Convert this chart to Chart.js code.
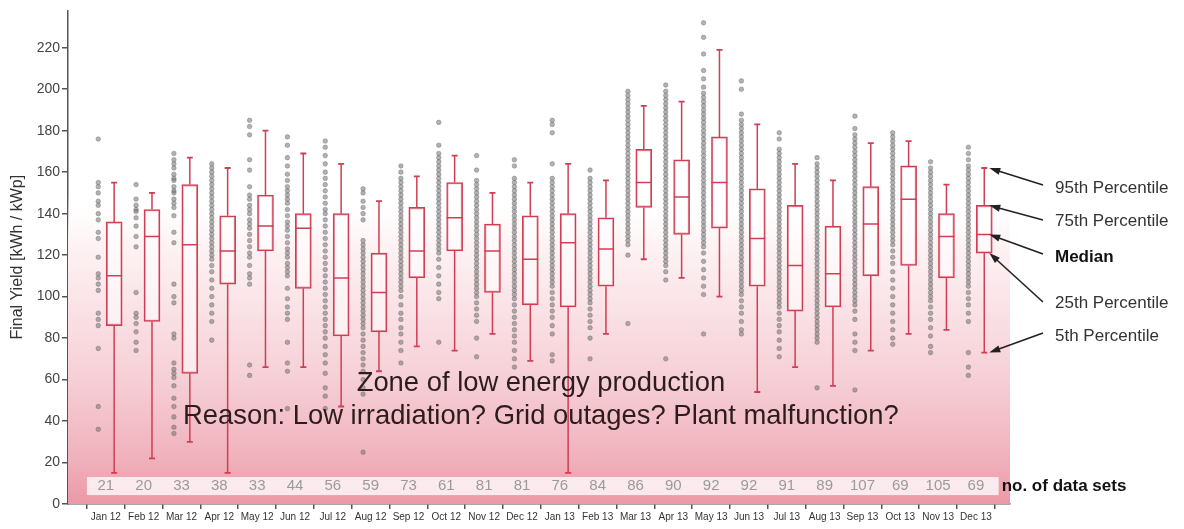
<!DOCTYPE html>
<html>
<head>
<meta charset="utf-8">
<script src="https://cdn.jsdelivr.net/npm/chart.js@4.4.1/dist/chart.umd.min.js"></script>
<style>
    html, body { margin: 0; padding: 0; background: #fff; }
    #chart { display: block; }
</style>
</head>
<body>
<canvas id="chart" width="1184" height="529"></canvas>
<script>
/*
    ----------> DATA <----------
*/

const months = ["Jan 12", "Feb 12", "Mar 12", "Apr 12", "May 12", "Jun 12", "Jul 12", "Aug 12", "Sep 12", "Oct 12", "Nov 12", "Dec 12",
                "Jan 13", "Feb 13", "Mar 13", "Apr 13", "May 13", "Jun 13", "Jul 13", "Aug 13", "Sep 13", "Oct 13", "Nov 13", "Dec 13"];

const counts = [21, 20, 33, 38, 33, 44, 56, 59, 73, 61, 81, 81, 76, 84, 86, 90, 92, 92, 91, 89, 107, 69, 105, 69];

// percentiles per month [kWh / kWp]
const p95    = [155, 150, 167, 162, 180, 169, 164, 146, 158, 168, 150, 155, 164, 156, 192, 194, 219, 183, 164, 156, 174, 175, 154, 162];
const q3     = [136, 142, 154, 139, 149, 140, 140, 121, 143, 155, 135, 139, 140, 138, 171, 166, 177, 152, 144, 134, 153, 163, 140, 144];
const median = [110, 129, 125, 122, 134, 133, 109, 102, 122, 138, 122, 118, 126, 123, 155, 148, 155, 128, 115, 111, 135, 147, 129, 130];
const q1     = [86, 88, 63, 106, 122, 104, 81, 83, 109, 122, 102, 96, 95, 105, 143, 130, 133, 105, 93, 95, 110, 115, 109, 121];
const p5     = [15, 22, 30, 15, 66, 66, 47, 64, 76, 74, 82, 69, 15, 82, 118, 109, 100, 54, 66, 57, 74, 82, 84, 73];

// single plant yields per month
const yields = [
    [176, 155, 153, 150, 146, 144, 140, 137, 131, 128, 119, 111, 109, 106, 103, 92, 89, 86, 75, 47, 36],
    [154, 147, 144, 142, 141, 138, 134, 129, 124, 102, 92, 90, 87, 83, 78, 74],
    [169, 166, 164, 162, 159, 157, 156, 153, 151, 150, 147, 145, 143, 139, 131, 126, 106, 100, 97, 82, 80, 68, 65, 63, 61, 57, 51, 47, 42, 37, 34],
    [164, 162, 160, 158, 156, 154, 152, 150, 148, 146, 144, 142, 140, 138, 136, 134, 132, 130, 128, 126, 124, 122, 120, 118, 115, 112, 108, 104, 100, 96, 92, 88, 79],
    [185, 182, 178, 166, 161, 153, 149, 147, 144, 142, 140, 137, 135, 133, 130, 127, 124, 121, 119, 115, 111, 109, 106, 67, 62],
    [177, 173, 167, 163, 159, 156, 153, 151, 149, 147, 145, 142, 139, 136, 134, 132, 129, 126, 123, 121, 119, 116, 114, 112, 110, 104, 99, 95, 92, 89, 78, 68, 64, 46],
    [175, 172, 168, 164, 160, 157, 154, 151, 148, 145, 142, 140, 137, 134, 131, 128, 125, 122, 119, 116, 113, 110, 107, 104, 101, 98, 95, 92, 89, 86, 83, 80, 76, 72, 68, 63, 56, 52, 46],
    [152, 150, 146, 143, 140, 137, 127, 125, 123, 121, 119, 117, 115, 113, 111, 109, 107, 105, 103, 101, 99, 97, 95, 93, 91, 89, 87, 85, 82, 79, 76, 73, 70, 67, 64, 60, 56, 53, 25],
    [163, 160, 157, 155, 153, 151, 149, 147, 145, 143, 141, 139, 137, 135, 133, 131, 129, 127, 125, 123, 121, 119, 117, 115, 113, 111, 109, 107, 105, 103, 100, 96, 92, 89, 85, 82, 78, 74, 68],
    [184, 173, 169, 167, 165, 163, 161, 159, 157, 155, 153, 151, 149, 147, 145, 143, 141, 139, 137, 135, 133, 131, 129, 127, 125, 123, 121, 118, 114, 110, 106, 102, 99, 78],
    [168, 161, 156, 154, 152, 150, 148, 146, 144, 142, 140, 138, 136, 134, 132, 130, 128, 126, 124, 122, 120, 118, 116, 114, 112, 110, 108, 106, 104, 102, 100, 97, 94, 91, 88, 80, 71],
    [166, 163, 157, 155, 153, 151, 149, 147, 145, 143, 141, 139, 137, 135, 133, 131, 129, 127, 125, 123, 121, 119, 117, 115, 113, 111, 109, 107, 105, 103, 101, 99, 96, 93, 90, 87, 84, 81, 78, 74, 70, 66],
    [185, 183, 179, 164, 157, 155, 153, 151, 149, 147, 145, 143, 141, 139, 137, 135, 133, 131, 129, 127, 125, 123, 121, 119, 117, 115, 113, 111, 109, 107, 105, 102, 99, 96, 93, 90, 86, 82, 72, 69],
    [161, 157, 155, 153, 151, 149, 147, 145, 143, 141, 139, 137, 135, 133, 131, 129, 127, 125, 123, 121, 119, 117, 115, 113, 111, 109, 107, 105, 103, 101, 99, 97, 94, 91, 88, 85, 80, 70],
    [199, 197, 195, 193, 191, 189, 187, 185, 183, 181, 179, 177, 175, 173, 171, 169, 167, 165, 163, 161, 159, 157, 155, 153, 151, 149, 147, 145, 143, 141, 139, 137, 135, 133, 131, 129, 127, 125, 120, 87],
    [202, 199, 197, 195, 193, 191, 189, 187, 185, 183, 181, 179, 177, 175, 173, 171, 169, 167, 165, 163, 161, 159, 157, 155, 153, 151, 149, 147, 145, 143, 141, 139, 137, 135, 133, 131, 129, 127, 125, 123, 121, 119, 117, 115, 112, 108, 70],
    [232, 225, 217, 209, 205, 201, 198, 196, 194, 192, 190, 188, 186, 184, 182, 180, 178, 176, 174, 172, 170, 168, 166, 164, 162, 160, 158, 156, 154, 152, 150, 148, 146, 144, 142, 140, 138, 136, 134, 132, 130, 128, 126, 124, 121, 117, 113, 109, 105, 101, 82],
    [204, 200, 188, 185, 183, 181, 179, 177, 175, 173, 171, 169, 167, 165, 163, 161, 159, 157, 155, 153, 151, 149, 147, 145, 143, 141, 139, 137, 135, 133, 131, 129, 127, 125, 123, 121, 119, 117, 115, 113, 111, 109, 107, 105, 103, 101, 98, 95, 92, 88, 84, 82],
    [179, 176, 171, 169, 167, 165, 163, 161, 159, 157, 155, 153, 151, 149, 147, 145, 143, 141, 139, 137, 135, 133, 131, 129, 127, 125, 123, 121, 119, 117, 115, 113, 111, 109, 107, 105, 103, 101, 99, 97, 95, 92, 89, 86, 83, 79, 75, 71],
    [167, 164, 162, 160, 158, 156, 154, 152, 150, 148, 146, 144, 142, 140, 138, 136, 134, 132, 130, 128, 126, 124, 122, 120, 118, 116, 114, 112, 110, 108, 106, 104, 102, 100, 98, 96, 94, 92, 90, 88, 86, 84, 82, 80, 78, 56],
    [187, 181, 178, 176, 174, 172, 170, 168, 166, 164, 162, 160, 158, 156, 154, 152, 150, 148, 146, 144, 142, 140, 138, 136, 134, 132, 130, 128, 126, 124, 122, 120, 118, 116, 114, 112, 110, 108, 106, 104, 102, 100, 98, 96, 93, 89, 82, 78, 74, 55],
    [179, 177, 175, 173, 171, 169, 167, 165, 163, 161, 159, 157, 155, 153, 151, 149, 147, 145, 143, 141, 139, 137, 135, 133, 131, 129, 127, 125, 122, 119, 116, 112, 108, 104, 100, 96, 92, 88, 84, 80, 77],
    [165, 162, 160, 158, 156, 154, 152, 150, 148, 146, 144, 142, 140, 138, 136, 134, 132, 130, 128, 126, 124, 122, 120, 118, 116, 114, 112, 110, 108, 106, 104, 102, 100, 98, 95, 92, 89, 85, 81, 76, 73],
    [172, 169, 166, 163, 161, 159, 157, 155, 153, 151, 149, 147, 145, 143, 141, 139, 137, 135, 133, 131, 129, 127, 125, 123, 121, 119, 117, 115, 113, 111, 109, 107, 105, 102, 99, 96, 92, 88, 73, 66, 62],
];

const percentileLabels = ["95th Percentile", "75th Percentile", "Median", "25th Percentile", "5th Percentile"];
const percentileValues = [p95, q3, median, q1, p5];

/*
    ----------> STYLE <----------
*/

const RED = "rgb(208, 62, 84)";
const BOX_SHIFT = 0.22;    // box sits right of the month tick
const DOT_SHIFT = -0.2;    // sample column sits left of it
const ZONE_TOP = 150;
const FONT = "'Liberation Sans', Arial, sans-serif";

Chart.defaults.font.family = FONT;

/*
    ----------> DATASETS <----------
*/

const dots = [];
yields.forEach((list, i) => {
    list.forEach(v => dots.push({ x: i + DOT_SHIFT, y: v }));
});

const whiskers = [];
months.forEach((m, i) => {
    const x = i + BOX_SHIFT;
    whiskers.push({ x, y: q3[i] }, { x, y: p95[i] }, { x, y: null });
    whiskers.push({ x, y: q1[i] }, { x, y: p5[i] }, { x, y: null });
});

const caps = [];
months.forEach((m, i) => {
    caps.push({ x: i + BOX_SHIFT, y: p95[i] }, { x: i + BOX_SHIFT, y: p5[i] });
});

/*
    ----------> PLUGIN: ZONE, COUNTS, NOTES <----------
*/

function drawArrow(ctx, x0, y0, x1, y1) {
    const ang = Math.atan2(y1 - y0, x1 - x0);
    const len = 11, half = 3.6;
    ctx.beginPath();
    ctx.moveTo(x0, y0);
    ctx.lineTo(x1 - Math.cos(ang) * len * 0.8, y1 - Math.sin(ang) * len * 0.8);
    ctx.stroke();
    ctx.beginPath();
    ctx.moveTo(x1, y1);
    ctx.lineTo(x1 - Math.cos(ang) * len - Math.sin(ang) * half, y1 - Math.sin(ang) * len + Math.cos(ang) * half);
    ctx.lineTo(x1 - Math.cos(ang) * len + Math.sin(ang) * half, y1 - Math.sin(ang) * len - Math.cos(ang) * half);
    ctx.closePath();
    ctx.fill();
}

const notes = {
    id: "notes",
    beforeDatasetsDraw(chart) {
        const { ctx, chartArea, scales: { y } } = chart;
        const top = y.getPixelForValue(ZONE_TOP);
        const bottom = y.getPixelForValue(0);
        const grad = ctx.createLinearGradient(0, bottom, 0, top);
        grad.addColorStop(0, "rgb(236, 152, 166)");
        grad.addColorStop(0.15, "rgb(240, 178, 189)");
        grad.addColorStop(0.4, "rgb(246, 207, 214)");
        grad.addColorStop(0.65, "rgb(250, 228, 232)");
        grad.addColorStop(0.85, "rgb(254, 244, 245)");
        grad.addColorStop(1, "rgba(255, 255, 255, 0)");
        ctx.save();
        ctx.fillStyle = grad;
        ctx.fillRect(chartArea.left, top, chartArea.right - chartArea.left, bottom - top);
        ctx.restore();
    },
    afterDatasetsDraw(chart) {
        const { ctx, scales: { x, y } } = chart;
        ctx.save();

        /* -----> COUNT BAND <----- */

        const bandL = x.getPixelForValue(-0.5);
        const bandR = x.getPixelForValue(23.6);
        const bandT = y.getPixelForValue(13);
        const bandB = y.getPixelForValue(4.3);
        ctx.fillStyle = "rgba(255, 255, 255, 0.78)";
        ctx.fillRect(bandL, bandT, bandR - bandL, bandB - bandT);

        ctx.font = `15px ${FONT}`;
        ctx.fillStyle = "#9a9a9a";
        ctx.textAlign = "center";
        ctx.textBaseline = "middle";
        const cy = (bandT + bandB) / 2;
        counts.forEach((c, i) => ctx.fillText(String(c), x.getPixelForValue(i), cy));

        ctx.font = `bold 17px ${FONT}`;
        ctx.fillStyle = "#111";
        ctx.textAlign = "left";
        ctx.fillText("no. of data sets", bandR + 3, cy);

        /* -----> ZONE TEXT <----- */

        ctx.font = `27.4px ${FONT}`;
        ctx.fillStyle = "#2b1d1f";
        ctx.textAlign = "center";
        ctx.fillText("Zone of low energy production", x.getPixelForValue(11.5), y.getPixelForValue(58.3));
        ctx.fillText("Reason: Low irradiation? Grid outages? Plant malfunction?", x.getPixelForValue(11.5), y.getPixelForValue(42.4));

        /* -----> PERCENTILE NOTES <----- */

        const textX = 1055;
        const textY = [188, 221, 257, 303, 336];
        const fromY = [185, 220, 254, 302, 333];
        const last = months.length - 1;
        const tipX = x.getPixelForValue(last + BOX_SHIFT) + 5;

        ctx.textAlign = "left";
        ctx.strokeStyle = "#222";
        ctx.lineWidth = 1.6;
        percentileLabels.forEach((label, k) => {
            ctx.font = (label == "Median" ? "bold " : "") + `17px ${FONT}`;
            ctx.fillStyle = label == "Median" ? "#111" : "#333";
            ctx.fillText(label, textX, textY[k]);
            ctx.fillStyle = "#222";
            drawArrow(ctx, textX - 12, fromY[k], tipX, y.getPixelForValue(percentileValues[k][last]));
        });

        ctx.restore();
    }
};

/*
    ----------> CHART <----------
*/

new Chart(document.getElementById("chart"), {
    type: "bar",
    data: {
        datasets: [
            {
                type: "scatter",
                data: dots,
                pointRadius: 2.3,
                pointBackgroundColor: "rgba(115, 115, 115, 0.55)",
                pointBorderColor: "rgba(80, 80, 80, 0.45)",
                pointBorderWidth: 0.7,
                order: 5,
            },
            {
                type: "line",
                data: whiskers,
                borderColor: RED,
                borderWidth: 1.5,
                pointRadius: 0,
                spanGaps: false,
                fill: false,
                order: 4,
            },
            {
                type: "bar",
                data: months.map((m, i) => ({ x: i + BOX_SHIFT, y: [q1[i], q3[i]] })),
                backgroundColor: "rgba(255, 255, 255, 0.55)",
                borderColor: RED,
                borderWidth: 1.5,
                borderSkipped: false,
                barThickness: 16,
                grouped: false,
                order: 3,
            },
            {
                type: "scatter",
                data: months.map((m, i) => ({ x: i + BOX_SHIFT, y: median[i] })),
                pointStyle: "line",
                pointRadius: 8,
                pointBorderColor: RED,
                pointBorderWidth: 1.5,
                order: 2,
            },
            {
                type: "scatter",
                data: caps,
                pointStyle: "line",
                pointRadius: 3,
                pointBorderColor: RED,
                pointBorderWidth: 1.8,
                order: 1,
            },
        ],
    },
    options: {
        responsive: false,
        animation: false,
        devicePixelRatio: 1,
        layout: { padding: { top: 10, right: 174, bottom: 0, left: 0 } },
        plugins: {
            legend: { display: false },
            tooltip: { enabled: false },
        },
        scales: {
            x: {
                type: "linear",
                min: -1,
                max: 23.9,
                offset: false,
                border: { color: "#555", width: 1.5 },
                grid: { drawOnChartArea: false, tickLength: 5, color: "#555", lineWidth: 1.5 },
                ticks: {
                    stepSize: 1,
                    autoSkip: false,
                    maxRotation: 0,
                    includeBounds: false,
                    padding: 2,
                    color: "#333",
                    font: { size: 10 },
                    callback: v => months[v] ?? "",
                },
                afterFit: s => { s.height = 25; },
            },
            y: {
                min: 0,
                max: 238,
                border: { color: "#555", width: 1.5 },
                grid: { drawOnChartArea: false, tickLength: 6, color: "#555", lineWidth: 1.5 },
                ticks: {
                    stepSize: 20,
                    includeBounds: false,
                    padding: 2,
                    color: "#444",
                    font: { size: 14 },
                },
                title: {
                    display: true,
                    text: "Final Yield [kWh / kWp]",
                    color: "#333",
                    font: { size: 16 },
                    padding: { top: 8, bottom: 0 },
                },
                afterFit: s => { s.width = 68; },
            },
        },
    },
    plugins: [notes],
});
</script>
</body>
</html>
